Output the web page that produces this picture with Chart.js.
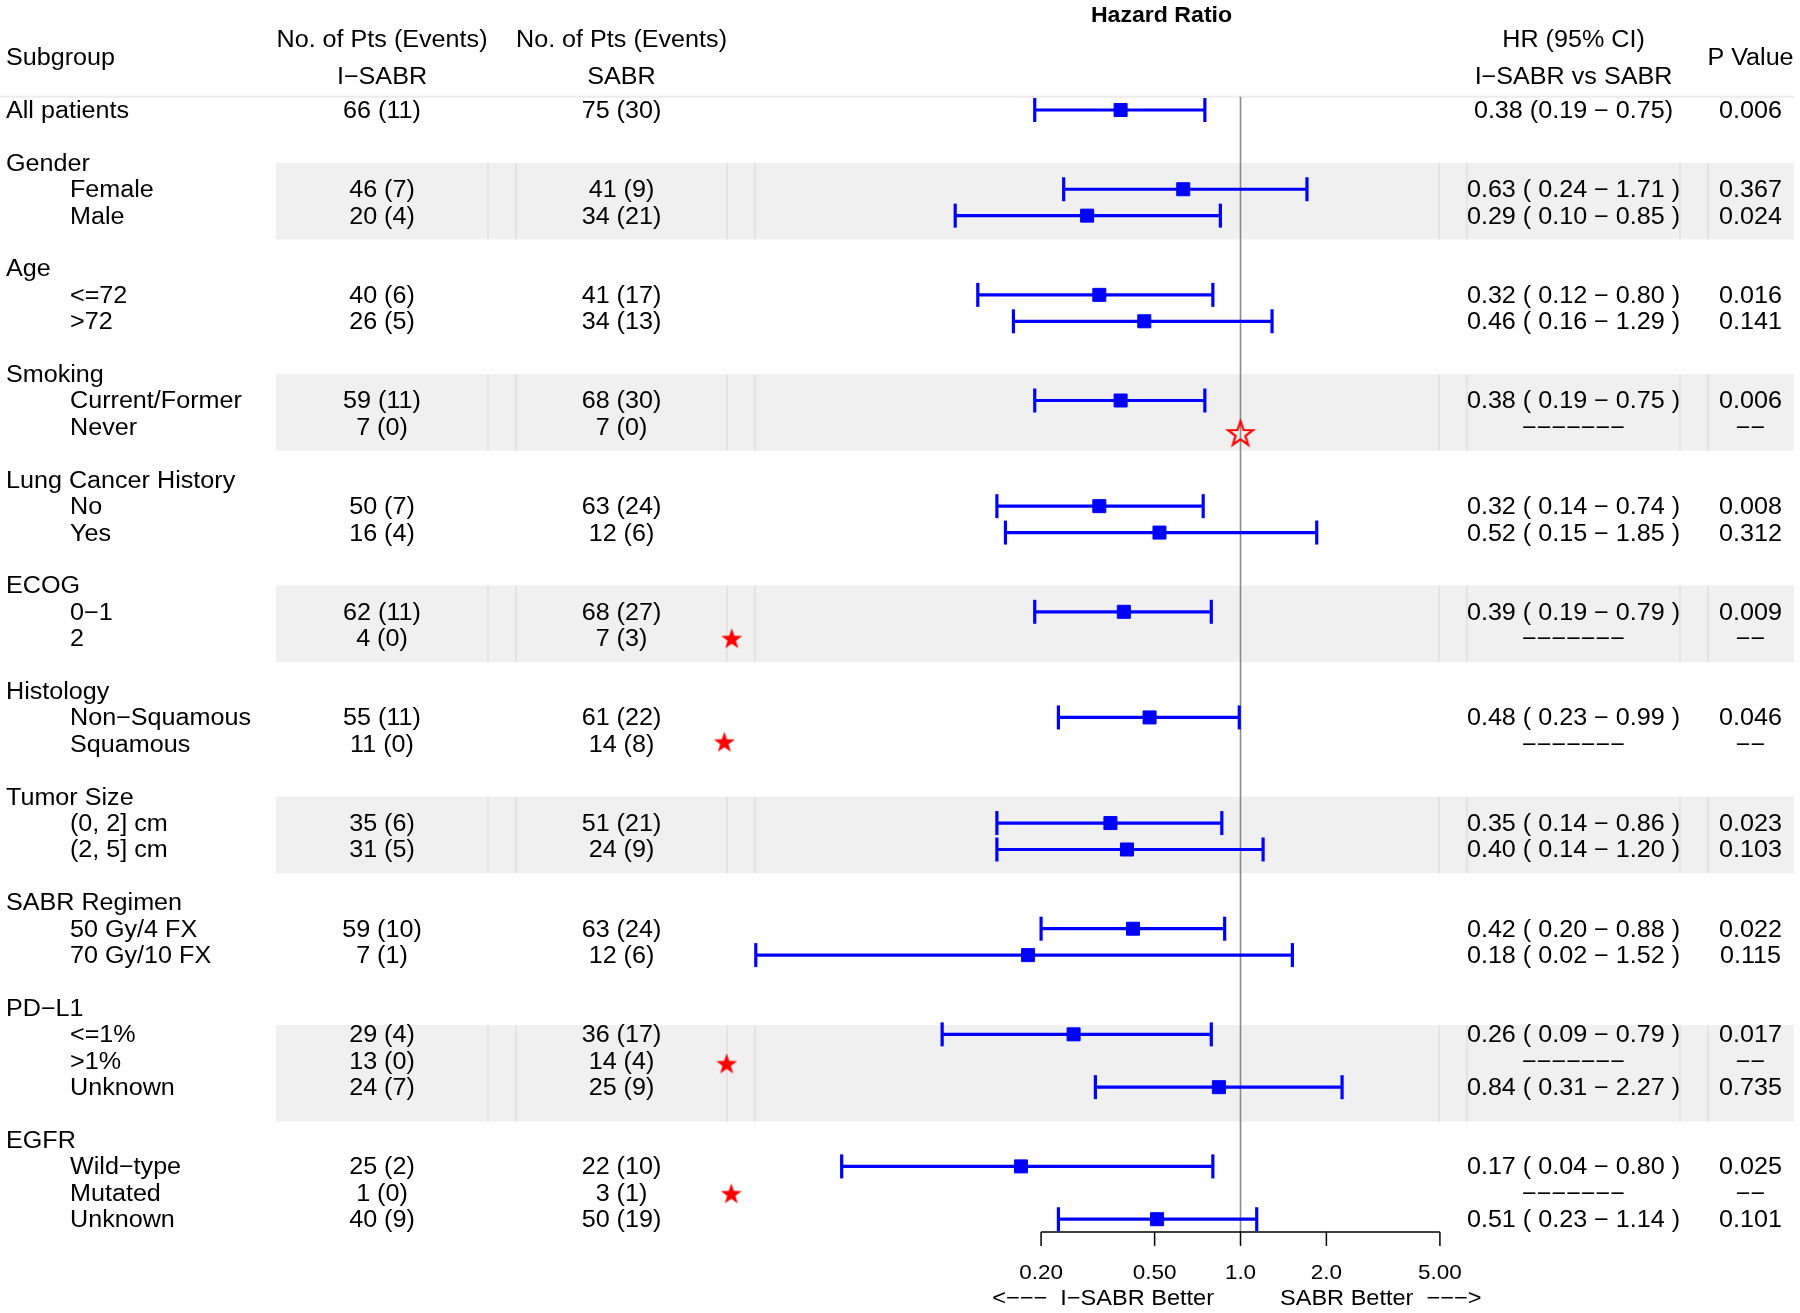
<!DOCTYPE html>
<html lang="en">
<head>
<meta charset="UTF-8">
<title>Hazard Ratio Forest Plot</title>
<style>
  html, body { margin: 0; padding: 0; background: #fff; }
  #wrap { width: 1800px; height: 1313px; }
</style>
</head>
<body>
<div id="wrap"><canvas id="forest" width="1800" height="1313"></canvas></div>
<script src="https://cdn.jsdelivr.net/npm/chart.js@4"></script>
<script>
// ---- table data (one entry per printed line) ----
const rowPos = [0, 2, 3, 4, 6, 7, 8, 10, 11, 12, 14, 15, 16, 18, 19, 20, 22, 23, 24,
                26, 27, 28, 30, 31, 32, 34, 35, 36, 37, 39, 40, 41, 42];
const rowLabels = ['All patients', 'Gender', 'Female', 'Male', 'Age', '<=72', '>72',
  'Smoking', 'Current/Former', 'Never', 'Lung Cancer History', 'No', 'Yes',
  'ECOG', '0\u22121', '2', 'Histology', 'Non\u2212Squamous', 'Squamous',
  'Tumor Size', '(0, 2] cm', '(2, 5] cm', 'SABR Regimen', '50 Gy/4 FX', '70 Gy/10 FX',
  'PD\u2212L1', '<=1%', '>1%', 'Unknown', 'EGFR', 'Wild\u2212type', 'Mutated', 'Unknown'];
const rowIndent = [0, 0, 1, 1, 0, 1, 1, 0, 1, 1, 0, 1, 1, 0, 1, 1, 0, 1, 1,
                   0, 1, 1, 0, 1, 1, 0, 1, 1, 1, 0, 1, 1, 1];
const nISABR = ['66 (11)', '', '46 (7)', '20 (4)', '', '40 (6)', '26 (5)', '', '59 (11)', '7 (0)',
  '', '50 (7)', '16 (4)', '', '62 (11)', '4 (0)', '', '55 (11)', '11 (0)', '', '35 (6)', '31 (5)',
  '', '59 (10)', '7 (1)', '', '29 (4)', '13 (0)', '24 (7)', '', '25 (2)', '1 (0)', '40 (9)'];
const nSABR = ['75 (30)', '', '41 (9)', '34 (21)', '', '41 (17)', '34 (13)', '', '68 (30)', '7 (0)',
  '', '63 (24)', '12 (6)', '', '68 (27)', '7 (3)', '', '61 (22)', '14 (8)', '', '51 (21)', '24 (9)',
  '', '63 (24)', '12 (6)', '', '36 (17)', '14 (4)', '25 (9)', '', '22 (10)', '3 (1)', '50 (19)'];
const hr = [0.38, null, 0.63, 0.29, null, 0.32, 0.46, null, 0.38, null, null, 0.32, 0.52,
  null, 0.39, null, null, 0.48, null, null, 0.35, 0.40, null, 0.42, 0.18,
  null, 0.26, null, 0.84, null, 0.17, null, 0.51];
const ciLow = [0.19, null, 0.24, 0.10, null, 0.12, 0.16, null, 0.19, null, null, 0.14, 0.15,
  null, 0.19, null, null, 0.23, null, null, 0.14, 0.14, null, 0.20, 0.02,
  null, 0.09, null, 0.31, null, 0.04, null, 0.23];
const ciHigh = [0.75, null, 1.71, 0.85, null, 0.80, 1.29, null, 0.75, null, null, 0.74, 1.85,
  null, 0.79, null, null, 0.99, null, null, 0.86, 1.20, null, 0.88, 1.52,
  null, 0.79, null, 2.27, null, 0.80, null, 1.14];
const pValues = ['0.006', '', '0.367', '0.024', '', '0.016', '0.141', '', '0.006', '\u2212\u2212',
  '', '0.008', '0.312', '', '0.009', '\u2212\u2212', '', '0.046', '\u2212\u2212', '', '0.023', '0.103',
  '', '0.022', '0.115', '', '0.017', '\u2212\u2212', '0.735', '', '0.025', '\u2212\u2212', '0.101'];

// subgroups without events: star markers
const starRows = [20, 23.92, 36.1, 41.02];
const starX = [0.01647, 0.01552, 0.01581, 0.01641];
const openStarRow = 12.23;
const openStarX = 1.0;

// shaded groups (row ranges)
const bandFrom = [2, 10, 18, 26, 34.65];
const bandTo = [4.9, 12.9, 20.9, 28.9, 38.3];

// axis
const tickValues = [0.2, 0.5, 1, 2, 5];
const tickLabels = ['0.20', '0.50', '1.0', '2.0', '5.00'];

// ---- layout constants ----
const ROW0 = 110, ROWH = 26.41, H = 1313, W = 1800;
const X1PX = 1240.5, DECADE = 285.3;
const BLUE = '#0000ff', RED = '#ff0000';
const FONT = '"Liberation Sans", Arial, sans-serif';
const SX = 1.07;
const TEXT_DY = 1.5;
const colEdges = [488, 516, 727, 755, 1439, 1467, 1680, 1708];
const bandLeft = 276, bandRight = 1794;
const colISABR = 382, colSABR = 621.5, colHR = 1573.5, colP = 1750.5;

function makeStar(outer, filled) {
  const c = document.createElement('canvas');
  const s = Math.ceil(outer * 2 + 6);
  c.width = c.height = s;
  const g = c.getContext('2d');
  g.translate(s / 2, s / 2 + outer * 0.095);
  g.beginPath();
  for (let k = 0; k < 10; k++) {
    const rad = k % 2 ? outer * 0.4 : outer;
    const a = -Math.PI / 2 + k * Math.PI / 5;
    g.lineTo(rad * Math.cos(a), rad * Math.sin(a));
  }
  g.closePath();
  if (filled) { g.fillStyle = RED; g.fill(); }
  else { g.strokeStyle = RED; g.lineWidth = 2.2; g.stroke(); }
  return c;
}

function hrText(i) {
  if (hr[i] === null) return nISABR[i] ? '\u2212\u2212\u2212\u2212\u2212\u2212\u2212' : '';
  const f = v => v.toFixed(2);
  if (i === 0) return f(hr[i]) + ' (' + f(ciLow[i]) + ' \u2212 ' + f(ciHigh[i]) + ')';
  return f(hr[i]) + ' ( ' + f(ciLow[i]) + ' \u2212 ' + f(ciHigh[i]) + ' )';
}

function txt(ctx, s, x, y, align, font, sx) {
  ctx.save();
  ctx.font = font;
  ctx.textAlign = align;
  ctx.textBaseline = 'middle';
  ctx.fillStyle = '#000';
  ctx.translate(x, y + TEXT_DY);
  ctx.scale(sx || SX, 1);
  ctx.fillText(s, 0, 0);
  ctx.restore();
}

// ---- datasets ----
const datasets = [];
const squares = [];
rowPos.forEach((r, i) => {
  if (hr[i] === null) return;
  squares.push({ x: hr[i], y: r });
  datasets.push({
    type: 'scatter',
    data: [{ x: ciLow[i], y: r }, { x: ciHigh[i], y: r }],
    showLine: true,
    borderColor: BLUE,
    borderWidth: 3.2,
    pointStyle: 'line',
    pointRotation: 90,
    pointRadius: 12,
    pointBorderWidth: 3.2,
    pointBorderColor: BLUE,
    order: 2
  });
});
datasets.push({
  type: 'scatter',
  data: squares,
  pointStyle: 'rect',
  pointRadius: 9.2,
  backgroundColor: BLUE,
  borderColor: BLUE,
  borderWidth: 1,
  order: 1
});
datasets.push({
  type: 'scatter',
  data: starRows.map((r, k) => ({ x: starX[k], y: r })),
  pointStyle: makeStar(11, true),
  order: 1
});
datasets.push({
  type: 'scatter',
  data: [{ x: openStarX, y: openStarRow }],
  pointStyle: makeStar(13, false),
  order: 1
});

// ---- background, axis and text ----
const forestDecor = {
  id: 'forestDecor',
  beforeDatasetsDraw(chart) {
    const { ctx, scales: { x, y } } = chart;
    ctx.save();
    bandFrom.forEach((r0, i) => {
      const top = y.getPixelForValue(r0), bot = y.getPixelForValue(bandTo[i]);
      ctx.fillStyle = '#f0f0f0';
      ctx.fillRect(bandLeft, top, bandRight - bandLeft, bot - top);
      ctx.strokeStyle = '#e0e0e0';
      ctx.lineWidth = 1.5;
      colEdges.forEach(cx => {
        ctx.beginPath(); ctx.moveTo(cx, top); ctx.lineTo(cx, bot); ctx.stroke();
      });
    });
    // header rule
    const hy = y.getPixelForValue(-0.5);
    ctx.strokeStyle = '#ececec';
    ctx.lineWidth = 2;
    ctx.beginPath(); ctx.moveTo(0, hy); ctx.lineTo(bandRight, hy); ctx.stroke();
    // reference line at HR = 1
    const axisY = y.getPixelForValue(42.48);
    const x1 = x.getPixelForValue(1);
    ctx.strokeStyle = '#8a8a8a';
    ctx.lineWidth = 1.6;
    ctx.beginPath(); ctx.moveTo(x1, hy); ctx.lineTo(x1, axisY); ctx.stroke();
    // x axis
    ctx.strokeStyle = '#000';
    ctx.lineWidth = 1.5;
    ctx.beginPath();
    ctx.moveTo(x.getPixelForValue(tickValues[0]), axisY);
    ctx.lineTo(x.getPixelForValue(tickValues[tickValues.length - 1]), axisY);
    ctx.stroke();
    tickValues.forEach(v => {
      const px = x.getPixelForValue(v);
      ctx.beginPath(); ctx.moveTo(px, axisY); ctx.lineTo(px, axisY + 14); ctx.stroke();
    });
    ctx.restore();
  },
  afterDraw(chart) {
    const { ctx, scales: { x, y } } = chart;
    const f = '23.5px ' + FONT;
    // headers
    txt(ctx, 'Hazard Ratio', 1161.5, y.getPixelForValue(-3.63), 'center', 'bold 22px ' + FONT, 1.05);
    txt(ctx, 'Subgroup', 6, y.getPixelForValue(-2.02), 'left', f);
    txt(ctx, 'No. of Pts (Events)', colISABR, y.getPixelForValue(-2.69), 'center', f);
    txt(ctx, 'No. of Pts (Events)', colSABR, y.getPixelForValue(-2.69), 'center', f);
    txt(ctx, 'I\u2212SABR', colISABR, y.getPixelForValue(-1.29), 'center', f);
    txt(ctx, 'SABR', colSABR, y.getPixelForValue(-1.29), 'center', f);
    txt(ctx, 'HR (95% CI)', colHR, y.getPixelForValue(-2.69), 'center', f);
    txt(ctx, 'I\u2212SABR vs SABR', colHR, y.getPixelForValue(-1.29), 'center', f);
    txt(ctx, 'P Value', colP, y.getPixelForValue(-2.02), 'center', f);
    // rows
    rowPos.forEach((r, i) => {
      const py = y.getPixelForValue(r);
      txt(ctx, rowLabels[i], rowIndent[i] ? 70 : 6, py, 'left', f);
      if (nISABR[i]) txt(ctx, nISABR[i], colISABR, py, 'center', f);
      if (nSABR[i]) txt(ctx, nSABR[i], colSABR, py, 'center', f);
      const h = hrText(i);
      if (h) txt(ctx, h, colHR, py, 'center', f);
      if (pValues[i]) txt(ctx, pValues[i], colP, py, 'center', f);
    });
    // axis labels
    const ty = y.getPixelForValue(44.0);
    tickValues.forEach((v, k) => {
      txt(ctx, tickLabels[k], x.getPixelForValue(v), ty, 'center', '21px ' + FONT);
    });
    const dy = y.getPixelForValue(44.98);
    txt(ctx, '<\u2212\u2212\u2212  I\u2212SABR Better', 1214, dy, 'right', '22px ' + FONT);
    txt(ctx, 'SABR Better  \u2212\u2212\u2212>', 1280, dy, 'left', '22px ' + FONT);
  }
};

new Chart(document.getElementById('forest'), {
  type: 'scatter',
  data: { datasets: datasets },
  options: {
    responsive: false,
    devicePixelRatio: 1,
    animation: false,
    events: [],
    layout: { padding: 0, autoPadding: false },
    plugins: { legend: { display: false }, tooltip: { enabled: false } },
    scales: {
      x: {
        type: 'logarithmic',
        display: false,
        bounds: 'data',
        min: Math.pow(10, -X1PX / DECADE),
        max: Math.pow(10, (W - X1PX) / DECADE)
      },
      y: {
        type: 'linear',
        display: false,
        reverse: true,
        bounds: 'data',
        min: -ROW0 / ROWH,
        max: (H - ROW0) / ROWH
      }
    }
  },
  plugins: [forestDecor]
});
</script>
</body>
</html>
